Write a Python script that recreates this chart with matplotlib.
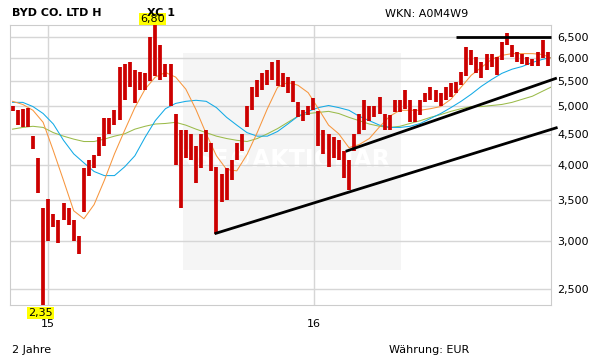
import pandas as pd
import matplotlib
matplotlib.use('Agg')
from matplotlib import pyplot as plt
from matplotlib import ticker
import matplotlib.dates as mdates

# weekly high / low in EUR, first week starts 2014-11-10
week_high = [5.01, 4.93, 4.95, 4.97, 4.47, 4.10, 3.40, 3.52, 3.32, 3.24,
             3.46, 3.40, 3.24, 3.05, 3.95, 4.07, 4.15, 4.44, 4.77, 4.77,
             4.92, 5.79, 5.87, 5.90, 5.73, 5.68, 5.66, 6.50, 6.80, 6.30,
             5.87, 5.87, 4.86, 4.56, 4.56, 4.50, 4.30, 4.50, 4.56, 4.35,
             3.97, 3.87, 3.95, 4.07, 4.35, 4.50, 5.01, 5.37, 5.51, 5.66,
             5.73, 5.90, 5.95, 5.66, 5.58, 5.50, 5.07, 4.92, 5.01, 5.15,
             4.90, 4.56, 4.50, 4.44, 4.39, 4.22, 4.07, 4.50, 4.86, 5.11,
             5.01, 5.01, 5.17, 4.86, 4.83, 5.11, 5.11, 5.31, 5.11, 4.95,
             5.11, 5.26, 5.37, 5.31, 5.25, 5.37, 5.45, 5.47, 5.68, 6.25,
             6.18, 6.02, 5.90, 6.10, 6.10, 6.02, 6.37, 6.60, 6.30, 6.13,
             6.10, 6.02, 5.98, 6.13, 6.42, 6.13, 5.95]
week_low = [4.90, 4.65, 4.62, 4.61, 4.24, 3.60, 2.35, 3.00, 3.16, 2.97,
            3.24, 3.18, 3.00, 2.85, 3.35, 3.84, 3.95, 4.14, 4.30, 4.50,
            4.65, 4.75, 5.11, 5.37, 5.05, 5.31, 5.31, 5.50, 5.60, 5.51,
            5.58, 5.01, 4.00, 3.40, 4.11, 4.07, 3.73, 3.95, 4.20, 3.91,
            3.08, 3.47, 3.50, 3.77, 4.07, 4.22, 4.61, 4.92, 5.17, 5.31,
            5.41, 5.51, 5.40, 5.37, 5.26, 5.07, 4.79, 4.73, 4.83, 4.92,
            4.30, 4.17, 3.97, 4.11, 4.07, 3.81, 3.63, 4.22, 4.50, 4.56,
            4.73, 4.79, 4.86, 4.56, 4.56, 4.88, 4.88, 4.95, 4.70, 4.70,
            4.83, 5.07, 5.11, 5.07, 5.01, 5.11, 5.17, 5.25, 5.41, 5.60,
            5.84, 5.66, 5.56, 5.73, 5.79, 5.62, 5.95, 6.30, 6.02, 5.90,
            5.87, 5.84, 5.82, 5.82, 5.99, 5.82, 5.51]

# moving averages, one value every second week
ma_orange = [5.09, 5.03, 4.92, 4.70, 4.22, 3.77, 3.36, 3.26, 3.44, 3.77,
             4.17, 4.56, 4.97, 5.33, 5.58, 5.68, 5.58, 5.33, 4.93, 4.50,
             4.14, 3.93, 3.91, 4.16, 4.52, 4.95, 5.37, 5.47, 5.41, 5.26,
             4.95, 4.65, 4.50, 4.27, 4.32, 4.42, 4.62, 4.81, 4.92, 4.92,
             4.92, 4.95, 4.99, 5.13, 5.37, 5.62, 5.79, 5.97, 6.06, 6.10,
             6.10, 6.10, 6.08, 5.98]
ma_blue = [5.07, 5.07, 4.99, 4.86, 4.67, 4.39, 4.17, 4.03, 3.90, 3.84,
           3.84, 3.97, 4.14, 4.44, 4.73, 4.95, 5.05, 5.09, 5.11, 5.09,
           4.97, 4.79, 4.65, 4.52, 4.46, 4.46, 4.54, 4.67, 4.81, 4.90,
           4.97, 5.01, 4.97, 4.92, 4.81, 4.73, 4.65, 4.61, 4.61, 4.63,
           4.68, 4.77, 4.86, 4.97, 5.09, 5.23, 5.39, 5.53, 5.66, 5.75,
           5.81, 5.90, 5.97, 6.02]
ma_green = [4.58, 4.61, 4.63, 4.61, 4.52, 4.46, 4.41, 4.37, 4.37, 4.41,
            4.46, 4.50, 4.58, 4.63, 4.67, 4.68, 4.70, 4.65, 4.58, 4.52,
            4.46, 4.42, 4.39, 4.37, 4.42, 4.50, 4.59, 4.70, 4.81, 4.86,
            4.88, 4.90, 4.86, 4.79, 4.73, 4.67, 4.63, 4.61, 4.63, 4.68,
            4.73, 4.79, 4.84, 4.90, 4.95, 4.99, 4.99, 5.01, 5.03, 5.07,
            5.13, 5.19, 5.29, 5.39]

y_ticks = [2.5, 3.0, 3.5, 4.0, 4.5, 5.0, 5.5, 6.0, 6.5]
x_ticks = ['2015-01-01', '2016-01-01']
x_tick_labels = ['15', '16']

# drawn trend lines: (start date, end date), (start price, end price)
trend_lines = [
    (['2015-08-18', '2016-12-01'], [3.08, 4.61]),
    (['2016-02-14', '2016-11-30'], [4.21, 5.56]),
    (['2016-07-15', '2016-11-22'], [6.50, 6.50]),
]

start = pd.Timestamp('2014-11-10')
half = pd.Timedelta(hours=84)
week_dates = pd.date_range(start, periods=len(week_high), freq='7D') + half
ma_dates = pd.date_range(start, periods=len(ma_blue), freq='14D') + half

W, H = 611, 364
fig = plt.figure(figsize=(W / 100, H / 100), dpi=100)
ax = fig.add_axes([10 / W, 59 / H, 541 / W, 280 / H])

grid_c = '#d6d6d6'
ax.set_yscale('log')
ax.set_xlim(mdates.date2num(start), mdates.date2num(pd.Timestamp('2016-11-22')))
ax.set_ylim(min(week_low), max(week_high))

# watermark box
ax.add_patch(plt.Rectangle((0.32, 0.125), 0.403, 0.775, transform=ax.transAxes,
                           color='#f5f5f5', zorder=0.2, lw=0))
ax.text(0.704, 0.518, 'BÖRSE©AKTIONÄR', transform=ax.transAxes, ha='right',
        va='center', fontsize=17, fontweight='bold', color='white', zorder=0.3)

for t in y_ticks:
    ax.axhline(t, color=grid_c, lw=1, zorder=0.5)
for t in x_ticks:
    ax.axvline(mdates.date2num(pd.Timestamp(t)), color=grid_c, lw=1, zorder=0.5)

ax.plot(ma_dates, ma_green, color='#9bbb4a', lw=0.75, zorder=2)
ax.plot(ma_dates, ma_blue, color='#12aae6', lw=0.75, zorder=2)
ax.plot(ma_dates, ma_orange, color='#f7963e', lw=0.75, zorder=2)

ax.vlines(week_dates, week_low, week_high, color='#cc0000', lw=2.7, zorder=3)

for d, p in trend_lines:
    ax.plot(pd.to_datetime(d), p, color='black', lw=2.0, zorder=4,
            clip_on=False, solid_capstyle='butt')

ax.yaxis.set_major_locator(ticker.FixedLocator(y_ticks))
ax.yaxis.set_minor_locator(ticker.NullLocator())
ax.yaxis.set_major_formatter(ticker.FuncFormatter(
    lambda v, p: ('%.3f' % v).replace('.', ',')))
ax.yaxis.tick_right()
ax.set_xticks(mdates.date2num(pd.to_datetime(x_ticks)))
ax.set_xticklabels(x_tick_labels)
ax.tick_params(axis='y', length=0, pad=4.5, labelsize=8)
ax.tick_params(axis='x', length=0, pad=10, labelsize=8)
for s in ax.spines.values():
    s.set_color('#cccccc')

# max / min labels
i_max = week_high.index(max(week_high))
i_min = week_low.index(min(week_low))
box = dict(boxstyle='square,pad=0.1', fc='#ffff00', ec='none')
ax.annotate(('%.2f' % week_high[i_max]).replace('.', ','),
            (week_dates[i_max], week_high[i_max]), xytext=(-2, 4.5),
            textcoords='offset points', ha='center', va='center',
            fontsize=8, bbox=box, annotation_clip=False, zorder=6)
ax.annotate(('%.2f' % week_low[i_min]).replace('.', ','),
            (week_dates[i_min], week_low[i_min]), xytext=(-2, -6),
            textcoords='offset points', ha='center', va='center',
            fontsize=8, bbox=box, annotation_clip=False, zorder=6)

fig.text(12 / W, 1 - 13 / H, 'BYD CO. LTD H', fontsize=8, fontweight='bold', va='center')
fig.text(147 / W, 1 - 13 / H, 'XC 1', fontsize=8, fontweight='bold', va='center', zorder=1)
fig.text(385 / W, 1 - 14 / H, 'WKN: A0M4W9', fontsize=8, va='center')
fig.text(12 / W, 1 - 350 / H, '2 Jahre', fontsize=8, va='center')
fig.text(389 / W, 1 - 350 / H, 'Währung: EUR', fontsize=8, va='center')

fig.savefig('out.png', dpi=100)
